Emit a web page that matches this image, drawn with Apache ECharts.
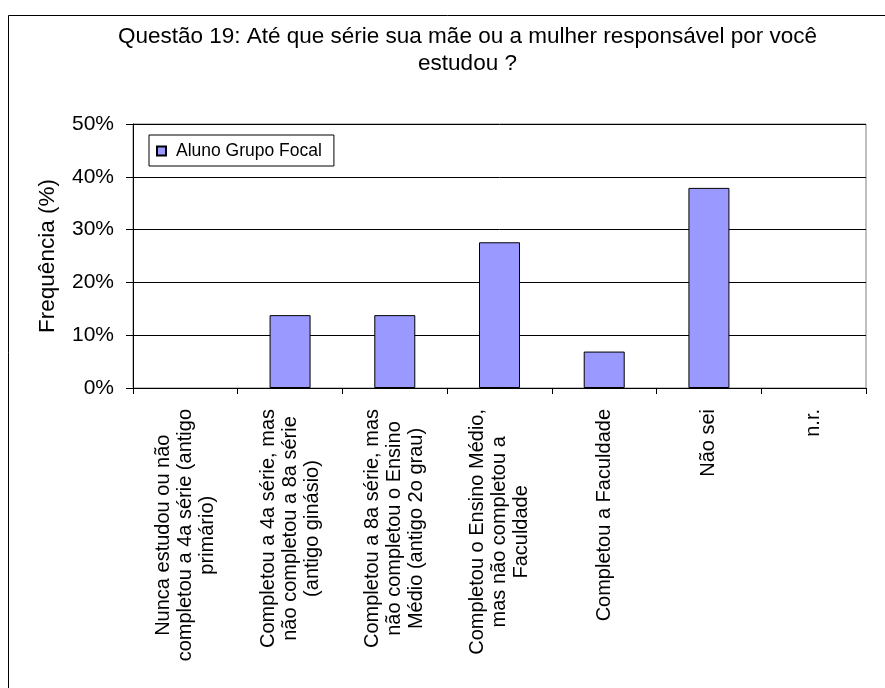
<!DOCTYPE html>
<html>
<head>
<meta charset="utf-8">
<script src="https://cdn.jsdelivr.net/npm/echarts@6/dist/echarts.min.js"></script>
<style>
html,body{margin:0;padding:0;background:#fff;}
#chart{width:885px;height:688px;}
</style>
</head>
<body>
<div id="chart"></div>
<script>
const titleText = 'Questão 19: Até que série sua mãe ou a mulher responsável por você\nestudou ?';
const categories = [
  'Nunca estudou ou não\ncompletou a 4a série (antigo\nprimário)',
  'Completou a 4a série, mas\nnão completou a 8a série\n(antigo ginásio)',
  'Completou a 8a série, mas\nnão completou o Ensino\nMédio (antigo 2o grau)',
  'Completou o Ensino Médio,\nmas não completou a\nFaculdade',
  'Completou a Faculdade',
  'Não sei',
  'n.r.'
];
const seriesName = 'Aluno Grupo Focal';
const values = [0, 13.8, 13.8, 27.6, 6.9, 37.9, 0];
const yAxisName = 'Frequência (%)';
const yMin = 0, yMax = 50, yStep = 10;

const FONT = "'Liberation Sans', Arial, sans-serif";
const chart = echarts.init(document.getElementById('chart'), null, {renderer: 'canvas'});

const barData = values.map(function (v) {
  return v === 0 ? {value: v, itemStyle: {borderWidth: 0}} : v;
});

chart.setOption({
  backgroundColor: '#fff',
  animation: false,
  textStyle: {fontFamily: FONT, color: '#000'},
  graphic: [
    {type: 'rect', z: -1, silent: true,
     shape: {x: 8.5, y: 15.5, width: 900, height: 700},
     style: {fill: 'none', stroke: '#000', lineWidth: 1}},
    {type: 'text', x: 467.5, y: 23, silent: true,
     style: {text: titleText, textAlign: 'center', textVerticalAlign: 'top',
       fontFamily: FONT, fontSize: 22.5, lineHeight: 27, fill: '#000'}}
  ],
  legend: {
    left: 149, top: 135,
    padding: [7, 12, 6, 7],
    backgroundColor: '#fff',
    borderColor: '#000', borderWidth: 1,
    icon: 'rect', itemWidth: 9, itemHeight: 9,
    textStyle: {fontFamily: FONT, fontSize: 17.5, color: '#000', padding: [0, 0, 0, 5]},
    data: [seriesName]
  },
  grid: {
    left: 133, right: 19, top: 124, bottom: 300,
    show: true, borderColor: '#808080', borderWidth: 1, backgroundColor: 'transparent'
  },
  xAxis: {
    type: 'category',
    data: categories,
    boundaryGap: true,
    axisLine: {lineStyle: {color: '#000', width: 1}},
    axisTick: {show: true, interval: 0, length: 6, inside: false, lineStyle: {color: '#000'}},
    axisLabel: {
      interval: 0, rotate: 90, margin: 21,
      fontFamily: FONT, fontSize: 20, lineHeight: 22, color: '#000',
      formatter: function (v) {
        return v.split('\n').map(function (s) { return '{c|' + s + '}'; }).join('\n');
      },
      rich: {c: {align: 'center', fontFamily: FONT, fontSize: 20, lineHeight: 22, color: '#000'}}
    },
    splitLine: {show: false}
  },
  yAxis: {
    type: 'value',
    min: yMin, max: yMax, interval: yStep,
    name: yAxisName,
    nameLocation: 'middle',
    nameGap: 74,
    nameTextStyle: {fontFamily: FONT, fontSize: 22.5, color: '#000'},
    axisLine: {show: true, lineStyle: {color: '#000', width: 1}},
    axisTick: {show: true, length: 7, inside: false, lineStyle: {color: '#000'}},
    axisLabel: {formatter: '{value}%', margin: 19, fontFamily: FONT, fontSize: 21, color: '#000'},
    splitLine: {show: true, lineStyle: {color: '#000', width: 1}}
  },
  series: [{
    name: seriesName,
    type: 'bar',
    data: barData,
    barWidth: 41,
    itemStyle: {color: '#9999FF', borderColor: '#000', borderWidth: 1}
  }]
});
</script>
</body>
</html>
